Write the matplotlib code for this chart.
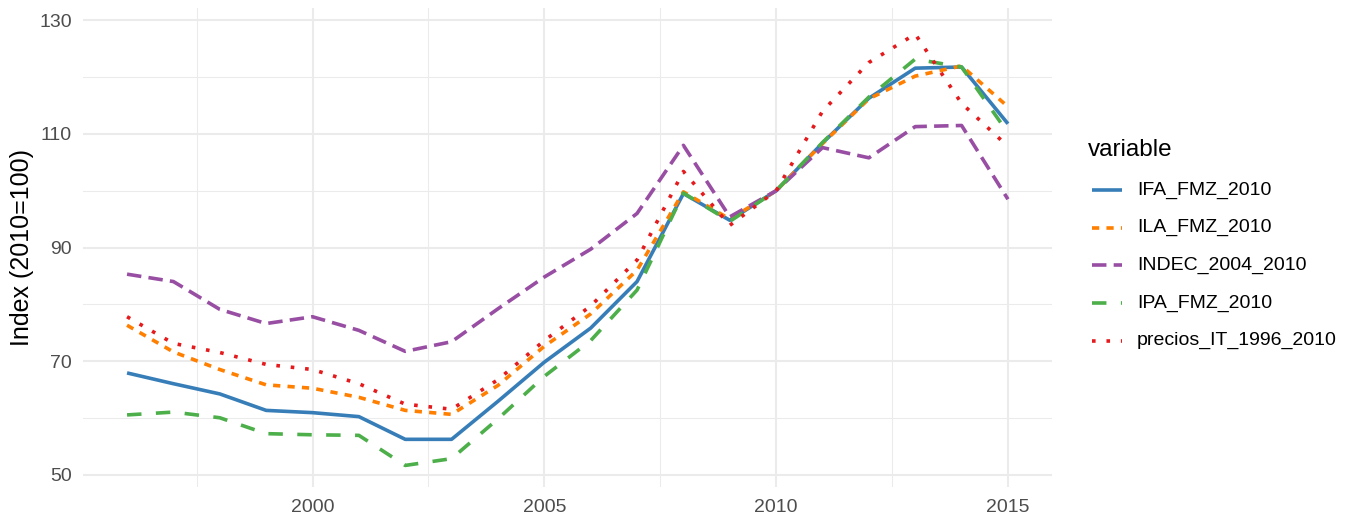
import matplotlib
matplotlib.use("Agg")
import matplotlib.pyplot as plt
from matplotlib.lines import Line2D
from matplotlib.ticker import MultipleLocator

years = list(range(1996, 2016))

ifa_fmz_2010 = [67.9, 66.0, 64.2, 61.3, 60.9, 60.2, 56.2, 56.2, 62.9, 69.8,
                75.8, 84.0, 99.5, 94.8, 100.0, 108.4, 116.3, 121.6, 121.8, 111.8]
ila_fmz_2010 = [76.3, 71.6, 68.5, 65.8, 65.2, 63.6, 61.3, 60.6, 65.7, 72.6,
                78.3, 86.0, 99.8, 95.0, 100.0, 108.3, 116.2, 120.2, 122.0, 114.8]
indec_2004_2010 = [85.3, 84.0, 79.1, 76.6, 77.8, 75.4, 71.7, 73.4, 79.2, 84.8,
                   89.7, 96.0, 108.0, 95.4, 100.0, 107.6, 105.8, 111.3, 111.5, 98.5]
ipa_fmz_2010 = [60.5, 61.0, 60.0, 57.2, 57.0, 56.9, 51.6, 52.8, 59.8, 67.3,
                73.6, 82.5, 99.6, 94.6, 100.0, 108.5, 116.5, 123.2, 121.8, 110.2]
precios_it_1996_2010 = [77.8, 73.1, 71.5, 69.4, 68.5, 66.0, 62.4, 61.5, 66.7, 73.6,
                        79.7, 87.8, 103.4, 93.9, 100.0, 114.0, 122.6, 127.6, 115.4, 107.8]

series_names = ["IFA_FMZ_2010", "ILA_FMZ_2010", "INDEC_2004_2010",
                "IPA_FMZ_2010", "precios_IT_1996_2010"]
series_values = [ifa_fmz_2010, ila_fmz_2010, indec_2004_2010,
                 ipa_fmz_2010, precios_it_1996_2010]
colors = ["#377EB8", "#FF7F00", "#984EA3", "#4DAF4A", "#E41A1C"]
dashes = [None, (2, 2), (4, 2), (4, 4), (1, 3)]

y_ticks = [50, 70, 90, 110, 130]
x_ticks = [2000, 2005, 2010, 2015]

W, H = 1351, 518
fig = plt.figure(figsize=(W / 100, H / 100), dpi=100)
plt.rcParams['font.family'] = ['Liberation Sans', 'DejaVu Sans']

left, right, top, bottom = 83, 1052, 8, 487
ax = fig.add_axes([left / W, 1 - bottom / H, (right - left) / W, (bottom - top) / H])

LW = 2.6
for name, vals, c, d in zip(series_names, series_values, colors, dashes):
    ln, = ax.plot(years, vals, color=c, lw=LW, solid_capstyle='butt',
                  dash_capstyle='butt', label=name, zorder=3)
    if d is not None:
        ln.set_dashes(d)

ax.set_xlim(1995.05, 2015.95)
ax.set_ylim(47.8, 132.2)
ax.set_xticks(x_ticks)
ax.set_yticks(y_ticks)
ax.xaxis.set_minor_locator(MultipleLocator(2.5))
ax.yaxis.set_minor_locator(MultipleLocator(10))
ax.grid(which='major', color='#EBEBEB', lw=1.5, zorder=0)
ax.grid(which='minor', color='#EBEBEB', lw=0.75, zorder=0)
ax.set_axisbelow(True)
for s in ax.spines.values():
    s.set_visible(False)
ax.tick_params(which='both', length=0, labelsize=14, labelcolor='#4D4D4D')
ax.tick_params(axis='x', pad=9)
ax.tick_params(axis='y', pad=8)
ax.set_ylabel("Index (2010=100)", fontsize=18, color='black', labelpad=4)

# legend drawn manually in figure pixel coordinates
fig.text(1088 / W, 1 - 150 / H, "variable", fontsize=17.5, va='center', ha='left')
key_y0, key_dy = 190, 37.7
for i, (name, c, d) in enumerate(zip(series_names, colors, dashes)):
    yy = 1 - (key_y0 + i * key_dy) / H
    ln = Line2D([1092 / W, 1122 / W], [yy, yy], transform=fig.transFigure,
                color=c, lw=LW, solid_capstyle='butt', dash_capstyle='butt')
    if d is not None:
        ln.set_dashes(d)
    fig.add_artist(ln)
    fig.text(1137 / W, yy, name, fontsize=14, va='center', ha='left')

fig.savefig("out.png", dpi=100)
